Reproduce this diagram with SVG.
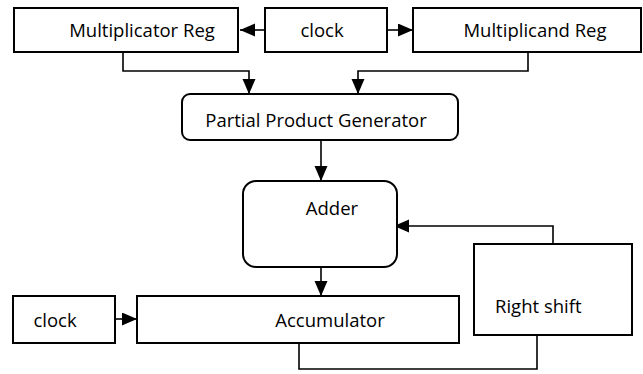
<svg xmlns="http://www.w3.org/2000/svg" width="643" height="374" viewBox="0 0 643 374">
<style>
.box{fill:#fff;stroke:#000;stroke-width:2}
.lbl{font-family:"Open Sans","Liberation Sans",sans-serif;font-size:18.5px;fill:#000}
.c{text-anchor:middle}
.wire{fill:none;stroke:#000;stroke-width:1.6}
</style>
<defs>
<marker id="ah" markerUnits="userSpaceOnUse" markerWidth="16" markerHeight="14" refX="15" refY="6.5" orient="auto">
<path d="M0,0 L15,6.5 L0,13 Z" fill="#000"/>
</marker>
</defs>
<rect width="643" height="374" fill="#fff"/>
<g id="connectors">
<line class="wire" x1="265" y1="30" x2="240" y2="30" marker-end="url(#ah)"/>
<line class="wire" x1="387" y1="30" x2="413" y2="30" marker-end="url(#ah)"/>
<path class="wire" d="M123,52 V71 H249 V94" marker-end="url(#ah)"/>
<path class="wire" d="M528,52 V71 H358 V94" marker-end="url(#ah)"/>
<line class="wire" x1="321" y1="140" x2="321" y2="181" marker-end="url(#ah)"/>
<line class="wire" x1="321" y1="267" x2="321" y2="296" marker-end="url(#ah)"/>
<path class="wire" d="M553,244 V226 H394" marker-end="url(#ah)"/>
<line class="wire" x1="115" y1="319" x2="137" y2="319" marker-end="url(#ah)"/>
<path class="wire" d="M299,343 V369 H537 V335"/>
</g>
<g id="multiplicator-reg">
<rect class="box" x="14" y="8" width="224" height="44"/>
<text class="lbl c" x="142" y="37">Multiplicator Reg</text>
</g>
<g id="clock-top">
<rect class="box" x="265" y="8" width="122" height="44"/>
<text class="lbl c" x="322" y="37">clock</text>
</g>
<g id="multiplicand-reg">
<rect class="box" x="413" y="8" width="228" height="44"/>
<text class="lbl c" x="535" y="37">Multiplicand Reg</text>
</g>
<g id="partial-product-generator">
<rect class="box" x="182" y="94" width="276" height="46" rx="8"/>
<text class="lbl c" x="316" y="127">Partial Product Generator</text>
</g>
<g id="adder">
<rect class="box" x="243" y="181" width="154" height="86" rx="13"/>
<text class="lbl c" x="332" y="215">Adder</text>
</g>
<g id="right-shift">
<rect class="box" x="474" y="244" width="158" height="91"/>
<text class="lbl" x="495" y="313">Right shift</text>
</g>
<g id="accumulator">
<rect class="box" x="137" y="296" width="322" height="47"/>
<text class="lbl c" x="330" y="327">Accumulator</text>
</g>
<g id="clock-bottom">
<rect class="box" x="13" y="296" width="102" height="47"/>
<text class="lbl c" x="55" y="327">clock</text>
</g>
</svg>
